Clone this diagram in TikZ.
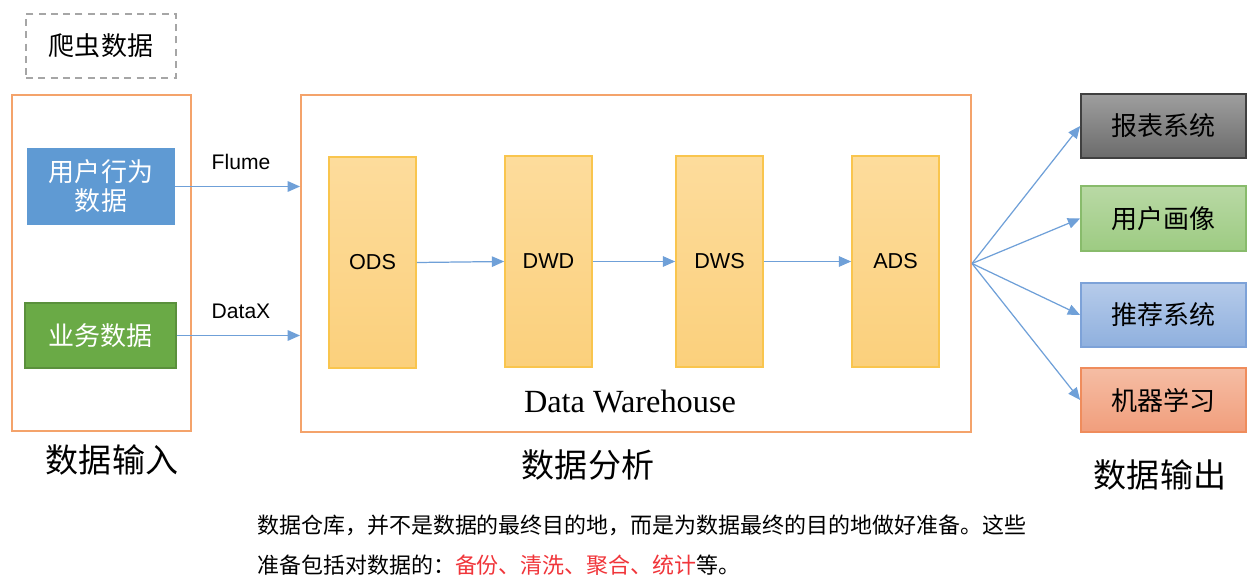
\documentclass[tikz,border=0pt]{standalone}
\usepackage{fontspec}
\setmainfont{Liberation Sans}
\newfontfamily\cjk{Noto Sans CJK SC}
\newfontfamily\serifen{Liberation Serif}
\usetikzlibrary{arrows.meta,positioning}
\definecolor{orangeline}{HTML}{F4A36B}
\definecolor{arrowblue}{HTML}{6FA0D8}
\definecolor{inblue}{HTML}{5F9AD3}
\definecolor{ingreen}{HTML}{6AAA46}
\definecolor{redtext}{HTML}{F0353A}
\tikzset{
  frame/.style={draw=orangeline, line width=1.2pt, fill=none},
  layerbox/.style={draw=#1, line width=1pt, minimum width=1.74cm, minimum height=4.22cm, inner sep=0pt,
     top color=#1!20!layertop, bottom color=#1!10!layerbot, font=\fontsize{12.3}{14}\selectfont},
  conn/.style={draw=arrowblue, line width=0.7pt, -{Triangle[length=7pt,width=6pt]}},
  outbox/.style={minimum width=3.3cm, minimum height=1.28cm, inner sep=0pt, line width=1pt,
     font=\cjk\fontsize{14.8}{17}\selectfont},
  caption/.style={font=\cjk\fontsize{18.8}{22}\selectfont},
}
\definecolor{layertop}{HTML}{FDDC9C}
\definecolor{layerbot}{HTML}{FBD07C}
\definecolor{layerline}{HTML}{F9C54E}
\begin{document}
\begin{tikzpicture}[x=0.02cm,y=-0.02cm]
\useasboundingbox (0,0) rectangle (1260,581);
% crawler
\node[draw=gray!70, dashed, line width=1pt, dash pattern=on 4pt off 3pt, minimum width=3cm, minimum height=1.28cm,
      font=\cjk\fontsize{14.8}{17}\selectfont] (crawl) at (101,46) {爬虫数据};
% input frame
\node[frame, minimum width=3.58cm, minimum height=6.72cm] (inframe) at (101.5,263) {};
\node[fill=inblue, minimum width=2.96cm, minimum height=1.54cm, inner sep=0pt, text=white, align=center,
      font=\cjk\fontsize{14.8}{16.5}\selectfont] (ub) at (101,186.5) {用户行为\\数据};
\node[fill=ingreen, draw=ingreen!85!black, line width=0.8pt, minimum width=3.02cm, minimum height=1.30cm, inner sep=0pt, text=white,
      font=\cjk\fontsize{14.8}{17}\selectfont] (biz) at (100.5,335.5) {业务数据};
% warehouse frame
\node[frame, minimum width=13.4cm, minimum height=6.74cm] (wh) at (636,263.5) {};
% layers
\node[draw=layerline, line width=1pt, minimum width=1.74cm, minimum height=4.22cm, inner sep=0pt,
      top color=layertop, bottom color=layerbot, font=\fontsize{12.3}{14}\selectfont] (ods) at (372.5,262.5) {ODS};
\node[draw=layerline, line width=1pt, minimum width=1.74cm, minimum height=4.22cm, inner sep=0pt,
      top color=layertop, bottom color=layerbot, font=\fontsize{12.3}{14}\selectfont] (dwd) at (548.5,261.5) {DWD};
\node[draw=layerline, line width=1pt, minimum width=1.74cm, minimum height=4.22cm, inner sep=0pt,
      top color=layertop, bottom color=layerbot, font=\fontsize{12.3}{14}\selectfont] (dws) at (719.5,261.5) {DWS};
\node[draw=layerline, line width=1pt, minimum width=1.74cm, minimum height=4.22cm, inner sep=0pt,
      top color=layertop, bottom color=layerbot, font=\fontsize{12.3}{14}\selectfont] (ads) at (895.5,261.5) {ADS};
\node[font=\serifen\fontsize{18.4}{22}\selectfont] (dwlabel) at (630,402) {Data Warehouse};
% input arrows
\draw[conn] (ub.east) -- (ub.east -| wh.west);
\draw[conn] (biz.east) -- (biz.east -| wh.west);
\node[font=\fontsize{12}{14}\selectfont] (flume) at (241,162) {Flume};
\node[font=\fontsize{12}{14}\selectfont] (datax) at (241,311) {DataX};
% layer arrows
\draw[conn] (ods.east) -- (dwd.west);
\draw[conn] (dwd.east) -- (dws.west);
\draw[conn] (dws.east) -- (ads.west);
% outputs
\node[outbox, draw=black!75, top color=black!38, bottom color=black!58] (rep) at (1163.5,126) {报表系统};
\node[outbox, draw=ingreen!80!white, top color={rgb,255:red,185;green,217;blue,165}, bottom color={rgb,255:red,157;green,203;blue,130}, minimum height=1.30cm] (prof) at (1163.5,218.5) {用户画像};
\node[outbox, draw={rgb,255:red,125;green,162;blue,216}, top color={rgb,255:red,182;green,203;blue,234}, bottom color={rgb,255:red,143;green,176;blue,222}] (rec) at (1163.5,315) {推荐系统};
\node[outbox, draw={rgb,255:red,239;green,140;blue,92}, top color={rgb,255:red,245;green,189;blue,164}, bottom color={rgb,255:red,241;green,158;blue,124}] (ml) at (1163.5,400) {机器学习};
\coordinate (fan) at (wh.east);
\draw[conn] (fan) -- (rep.west);
\draw[conn] (fan) -- (prof.west);
\draw[conn] (fan) -- (rec.west);
\draw[conn] (fan) -- (ml.west);
% captions
\node[caption] (capin) at (112,460) {数据输入};
\node[caption] (capan) at (588,465) {数据分析};
\node[caption] (capout) at (1160,475) {数据输出};
% bottom text
\node[anchor=west, inner sep=0pt, font=\cjk\fontsize{12.5}{15}\selectfont] (t1) at (257,525) {数据仓库，并不是数据的最终目的地，而是为数据最终的目的地做好准备。这些};
\node[anchor=west, inner sep=0pt, font=\cjk\fontsize{12.5}{15}\selectfont] (t2) at (257,565) {准备包括对数据的：\textcolor{redtext}{备份、清洗、聚合、统计}等。};
\end{tikzpicture}
\end{document}
